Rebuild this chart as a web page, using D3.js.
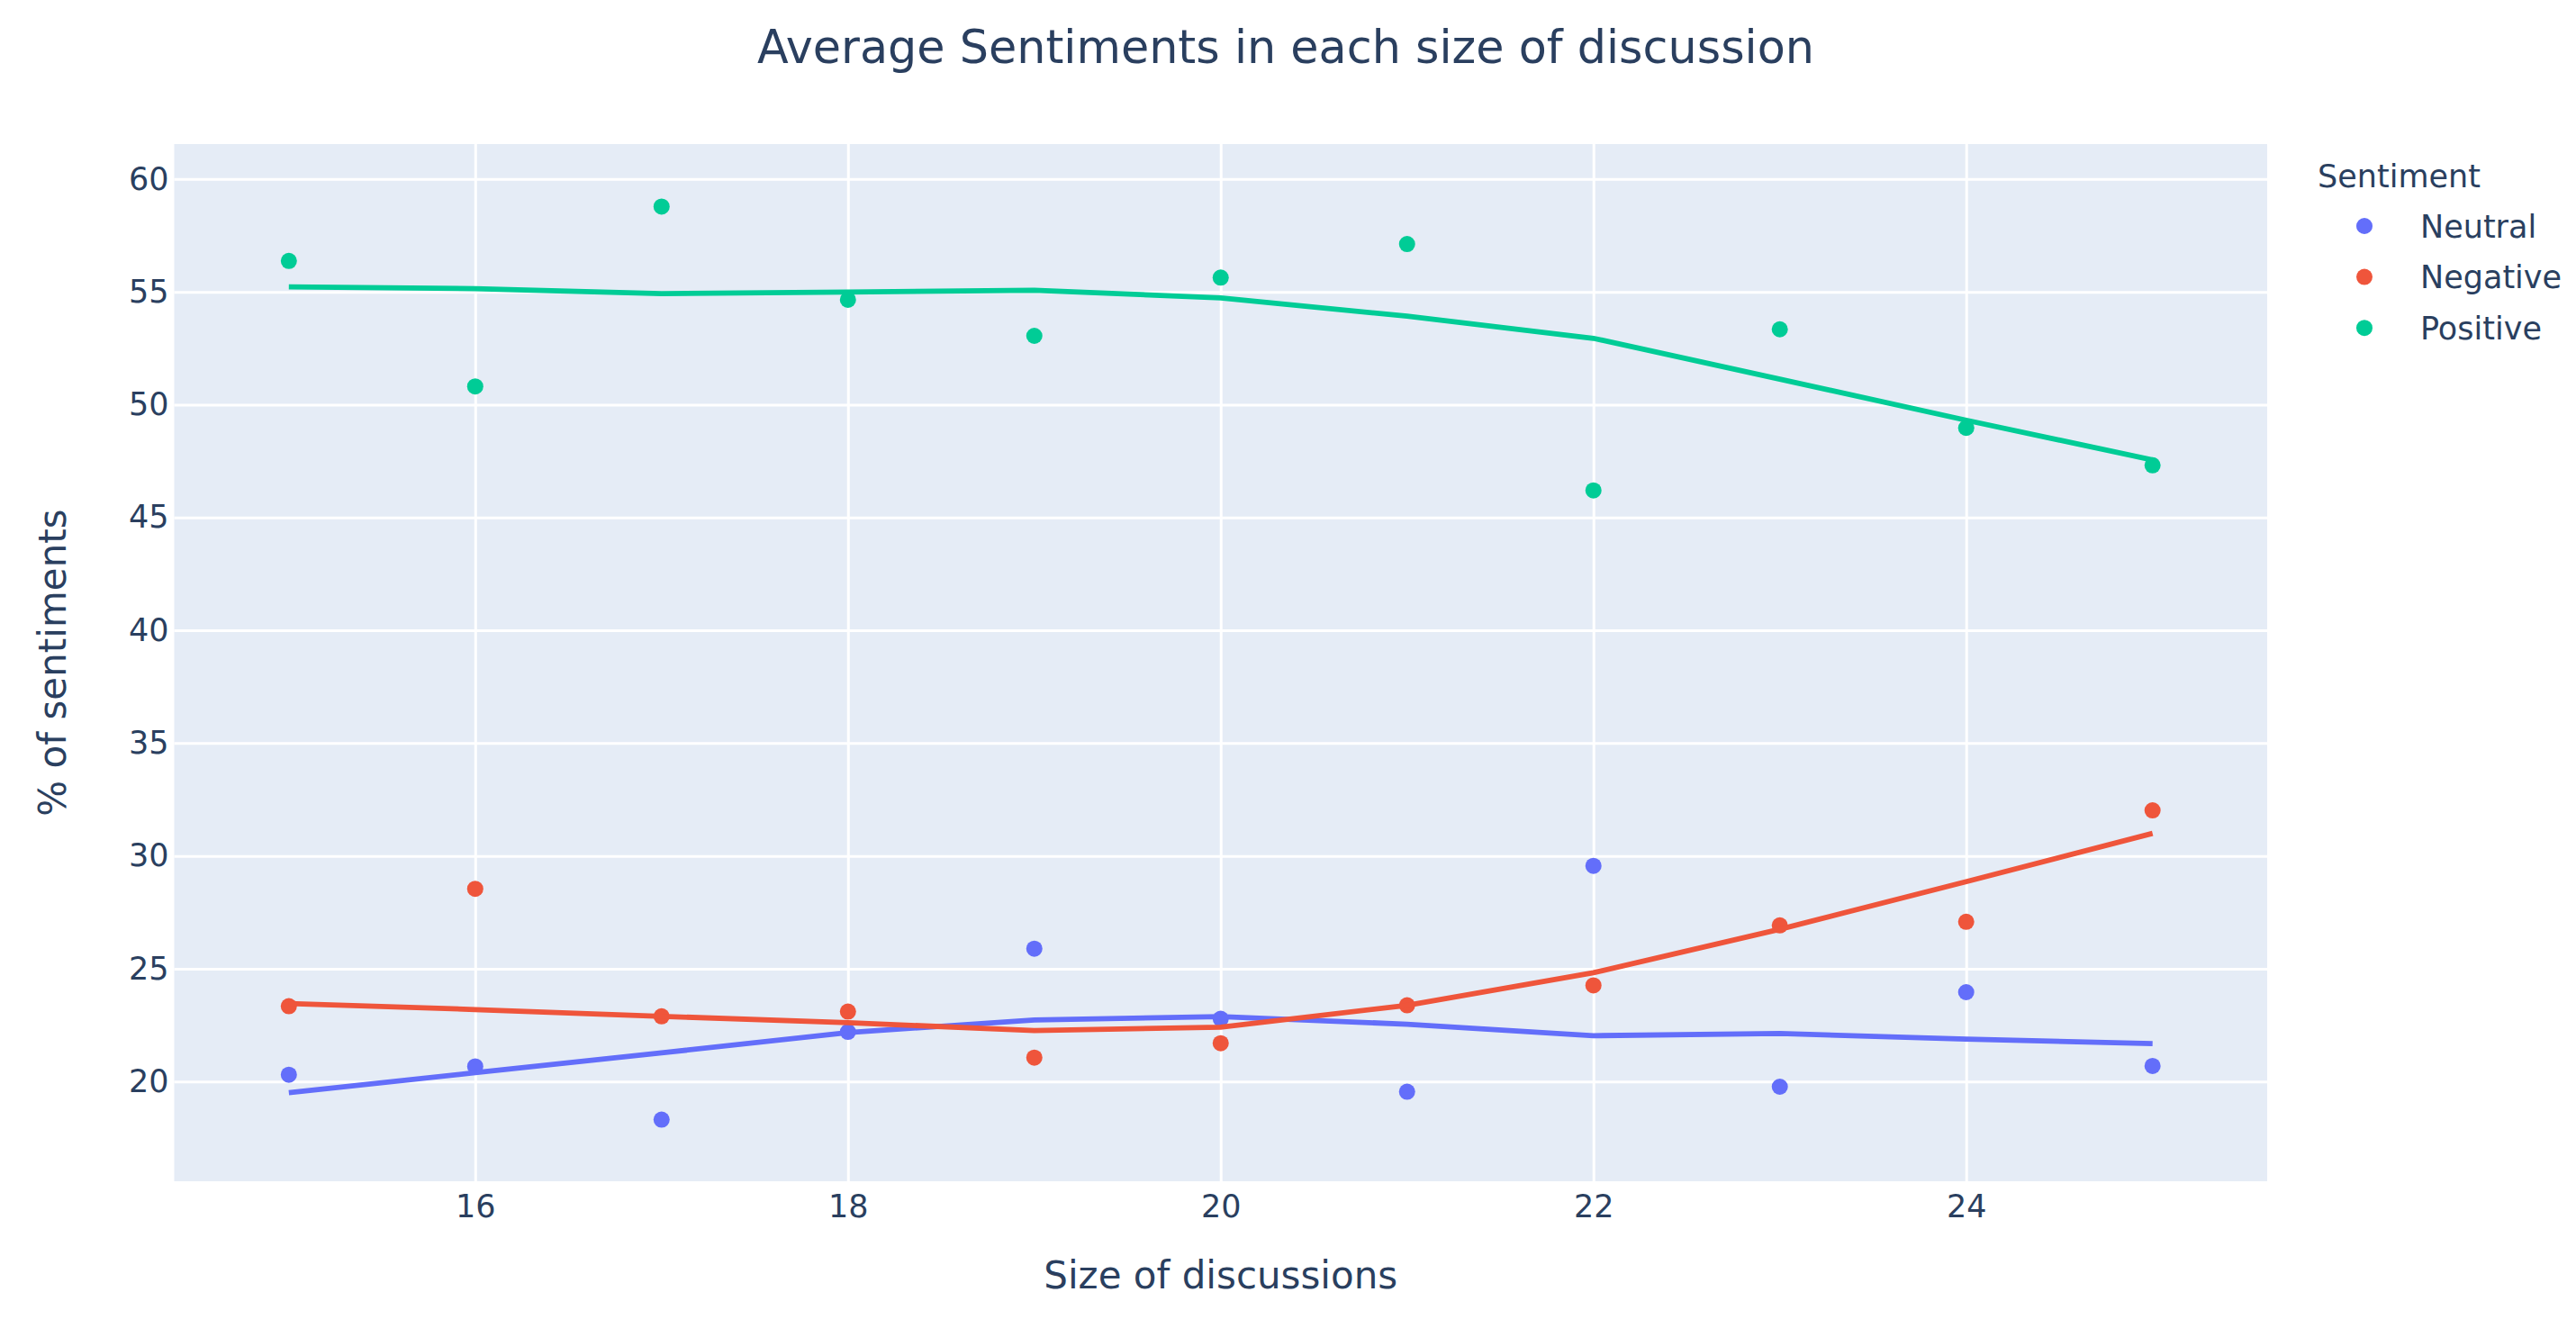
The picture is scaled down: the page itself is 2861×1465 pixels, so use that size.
<!DOCTYPE html>
<html>
<head>
<meta charset="utf-8">
<script src="https://cdn.jsdelivr.net/npm/d3@7"></script>
<style>
  body { margin: 0; background: #fff; }
  text { font-family: Verdana, "DejaVu Sans", sans-serif; fill: #2a3f5f; }
</style>
</head>
<body>
<script>
// sizes of discussion (x)
const sizes = [15, 16, 17, 18, 19, 20, 21, 22, 23, 24, 25];

// average % per sentiment
const neutralValues  = [20.30, 20.67, 18.31, 22.20, 25.89, 22.78, 19.55, 29.56, 19.77, 23.96, 20.69];
const negativeValues = [23.34, 28.54, 22.89, 23.10, 21.06, 21.70, 23.38, 24.26, 26.92, 27.08, 32.02];
const positiveValues = [56.37, 50.81, 58.78, 54.65, 53.05, 55.63, 57.12, 46.20, 53.34, 48.97, 47.31];

// lowess trendlines
const neutralTrend  = [19.51, 20.39, 21.27, 22.17, 22.73, 22.88, 22.54, 22.03, 22.13, 21.88, 21.68];
const negativeTrend = [23.46, 23.19, 22.89, 22.61, 22.26, 22.41, 23.38, 24.82, 26.75, 28.86, 31.00];
const positiveTrend = [55.22, 55.14, 54.92, 54.99, 55.07, 54.73, 53.92, 52.94, 51.13, 49.31, 47.55];

const sentiments = ['Neutral', 'Negative', 'Positive'];
const xTicks = [16, 18, 20, 22, 24];
const yTicks = [20, 25, 30, 35, 40, 45, 50, 55, 60];

const draw = () => {
    const width = 2861, height = 1465;
    const plot = {left: 193.5, right: 2518, top: 160, bottom: 1312};
    const colors = {Neutral: '#636efa', Negative: '#EF553B', Positive: '#00cc96'};
    const font = 'Verdana, "DejaVu Sans", sans-serif';

    const series = [
        {name: 'Neutral',  values: neutralValues,  trend: neutralTrend},
        {name: 'Negative', values: negativeValues, trend: negativeTrend},
        {name: 'Positive', values: positiveValues, trend: positiveTrend}
    ];

    const svg = d3.select('body')
        .append('svg')
        .attr('width', width)
        .attr('height', height);

    const x = d3.scaleLinear().domain([14.385, 25.615]).range([plot.left, plot.right]);
    const y = d3.scaleLinear().domain([15.58, 61.55]).range([plot.bottom, plot.top]);

    // background
    svg.append('rect')
        .attr('x', plot.left)
        .attr('y', plot.top)
        .attr('width', plot.right - plot.left)
        .attr('height', plot.bottom - plot.top)
        .attr('fill', '#E5ECF6');

    // grid
    const xGrid = svg.append('g')
        .attr('transform', `translate(0,${plot.bottom})`)
        .call(d3.axisBottom(x).tickValues(xTicks).tickSize(-(plot.bottom - plot.top)).tickFormat(''));
    const yGrid = svg.append('g')
        .attr('transform', `translate(${plot.left},0)`)
        .call(d3.axisLeft(y).tickValues(yTicks).tickSize(-(plot.right - plot.left)).tickFormat(''));
    [xGrid, yGrid].forEach(g => {
        g.select('.domain').remove();
        g.selectAll('line').attr('stroke', '#fff').attr('stroke-width', 3);
    });

    // tick labels
    const xAxis = svg.append('g')
        .attr('transform', `translate(0,${plot.bottom})`)
        .call(d3.axisBottom(x).tickValues(xTicks).tickSize(0).tickPadding(15));
    const yAxis = svg.append('g')
        .attr('transform', `translate(${plot.left - 6},0)`)
        .call(d3.axisLeft(y).tickValues(yTicks).tickSize(0).tickPadding(0));
    [xAxis, yAxis].forEach(g => {
        g.select('.domain').remove();
        g.selectAll('text')
            .attr('fill', '#2a3f5f')
            .style('font-family', font)
            .style('font-size', '35px');
    });

    // traces
    const line = d3.line()
        .x((d, i) => x(sizes[i]))
        .y(d => y(d));

    series.forEach(s => {
        svg.append('g')
            .selectAll('circle')
            .data(s.values)
            .enter()
            .append('circle')
            .attr('cx', (d, i) => x(sizes[i]))
            .attr('cy', d => y(d))
            .attr('r', 9)
            .attr('fill', colors[s.name]);

        svg.append('path')
            .attr('d', line(s.trend))
            .attr('fill', 'none')
            .attr('stroke', colors[s.name])
            .attr('stroke-width', 5.8);
    });

    // titles
    svg.append('text')
        .attr('x', 1428)
        .attr('y', 70)
        .attr('text-anchor', 'middle')
        .style('font-size', '50.8px')
        .text('Average Sentiments in each size of discussion');

    svg.append('text')
        .attr('x', (plot.left + plot.right) / 2)
        .attr('y', 1431)
        .attr('text-anchor', 'middle')
        .style('font-size', '42px')
        .text('Size of discussions');

    svg.append('text')
        .attr('transform', `translate(73,${(plot.top + plot.bottom) / 2}) rotate(-90)`)
        .attr('text-anchor', 'middle')
        .style('font-size', '42px')
        .text('% of sentiments');

    // legend
    const legend = svg.append('g');
    legend.append('text')
        .attr('x', 2574)
        .attr('y', 208)
        .style('font-size', '35px')
        .text('Sentiment');

    const item = legend.selectAll('g.item')
        .data(sentiments)
        .enter()
        .append('g')
        .attr('class', 'item')
        .attr('transform', (d, i) => `translate(0,${251 + i * 56.6})`);
    item.append('circle')
        .attr('cx', 2626)
        .attr('cy', 0)
        .attr('r', 9)
        .attr('fill', d => colors[d]);
    item.append('text')
        .attr('x', 2688)
        .attr('y', 0)
        .attr('dy', '0.36em')
        .style('font-size', '35px')
        .text(d => d);
};

draw();
</script>
</body>
</html>
